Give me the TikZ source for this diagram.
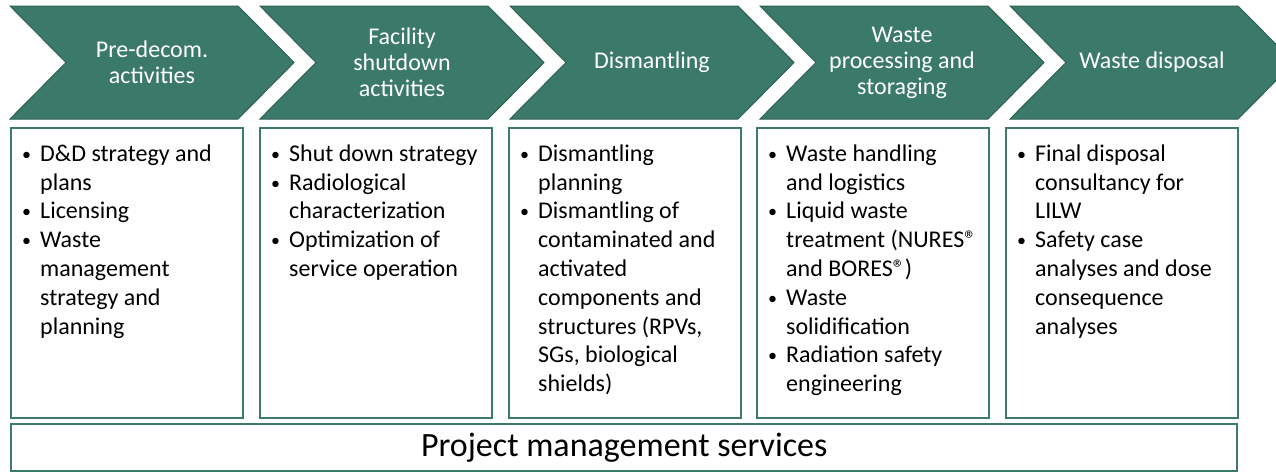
\documentclass[tikz,border=0pt]{standalone}
\usepackage{fontspec}
\setmainfont{Carlito}
\definecolor{phasefill}{RGB}{59,122,106}
\definecolor{phaseedge}{RGB}{46,96,83}
\definecolor{boxedge}{RGB}{60,123,107}
% small bullet with hanging indent, as in the activity lists
\newcommand{\bl}{\makebox[18pt][l]{\raisebox{1pt}{\fontsize{18}{18}\selectfont\textbullet}}}
\newcommand{\ind}{\hspace*{18pt}}
\newcommand{\firststrut}{\rule{0pt}{20pt}}
\newcommand{\regmark}{®}
\begin{document}
\begin{tikzpicture}[x=1pt,y=-1pt,
  phase/.style={fill=phasefill,draw=phaseedge,line width=1pt,line join=miter},
  phasetext/.style={text=white,align=center,inner sep=0pt,
    font=\fontsize{24}{26}\selectfont},
  listbox/.style={draw=boxedge,line width=2.4pt,anchor=north west,
    minimum width=232pt,minimum height=290pt,inner sep=0pt},
  listtext/.style={anchor=north west,align=left,inner sep=0pt,
    font=\fontsize{24}{28.8}\selectfont},
]
\useasboundingbox (0,0) rectangle (1276,474);
\clip (0,0) rectangle (1276,474);

% phase chevrons
\foreach \i in {0,...,4}{
  \pgfmathsetmacro{\L}{10+250*\i}
  \fill[phase] (\L,6) -- ++(228,0) -- ++(56,56.5) -- ++(-56,56.5)
    -- ++(-228,0) -- ++(56,-56.5) -- cycle;
}
\node[phasetext] (p1) at (152,62.5) {Pre-decom.\\activities};
\node[phasetext] (p2) at (402,62.5) {Facility\\shutdown\\activities};
\node[phasetext] (p3) at (652,62.5) {Dismantling};
\node[phasetext] (p4) at (902,62.5) {Waste\\processing and\\storaging};
\node[phasetext] (p5) at (1152,62.5) {Waste disposal};

% activity boxes
\node[listbox] (b1) at (10,127) {};
\node[listbox] (b2) at (259,127) {};
\node[listbox] (b3) at (508,127) {};
\node[listbox] (b4) at (756,127) {};
\node[listbox] (b5) at (1005,127) {};

\node[listtext] (t1) at ([xshift=12pt,yshift=-14pt]b1.north west) {\firststrut
  \bl D\&D strategy and\\ \ind plans\\ \bl Licensing\\ \bl Waste\\
  \ind management\\ \ind strategy and\\ \ind planning};
\node[listtext] (t2) at ([xshift=12pt,yshift=-14pt]b2.north west) {\firststrut
  \bl Shut down strategy\\ \bl Radiological\\ \ind characterization\\
  \bl Optimization of\\ \ind service operation};
\node[listtext] (t3) at ([xshift=12pt,yshift=-14pt]b3.north west) {\firststrut
  \bl Dismantling\\ \ind planning\\ \bl Dismantling of\\
  \ind contaminated and\\ \ind activated\\ \ind components and\\
  \ind structures (RPVs,\\ \ind SGs, biological\\ \ind shields)};
\node[listtext] (t4) at ([xshift=12pt,yshift=-14pt]b4.north west) {\firststrut
  \bl Waste handling\\ \ind and logistics\\ \bl Liquid waste\\
  \ind treatment (NURES\regmark\\ \ind and BORES\regmark)\\
  \bl Waste\\ \ind solidification\\ \bl Radiation safety\\ \ind engineering};
\node[listtext] (t5) at ([xshift=12pt,yshift=-14pt]b5.north west) {\firststrut
  \bl Final disposal\\ \ind consultancy for\\ \ind LILW\\ \bl Safety case\\
  \ind analyses and dose\\ \ind consequence\\ \ind analyses};

% services bar
\node[draw=boxedge,line width=2.4pt,anchor=north west,minimum width=1226pt,
  minimum height=47pt,inner sep=0pt] (pm) at (10,423) {};
\node[inner sep=0pt,font=\fontsize{34}{38}\selectfont] (pmt) at (pm.center)
  {Project management services};
\end{tikzpicture}
\end{document}
